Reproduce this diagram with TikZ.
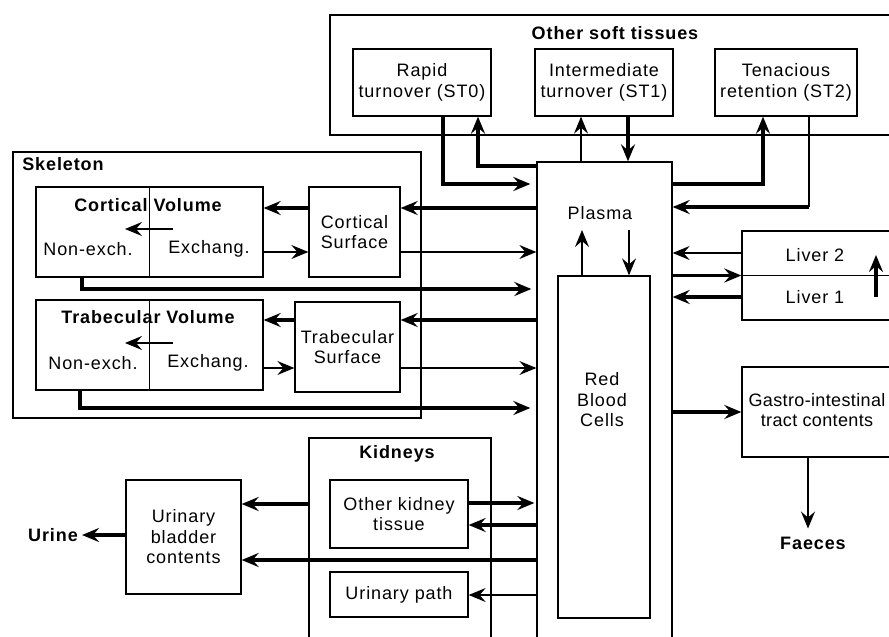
\documentclass[tikz,border=0pt]{standalone}
\usepackage{fontspec}
\setmainfont{Liberation Sans}[LetterSpace=5]
\usetikzlibrary{arrows.meta}
\newcommand\fsz{\fontsize{18}{20.5}\selectfont}
\begin{document}
\begin{tikzpicture}[x=1pt,y=-1pt,
  box/.style={draw, line width=1.3pt, inner sep=0pt, align=center, font=\fsz},
  txt/.style={inner sep=0pt, align=center, font=\fsz},
  btxt/.style={inner sep=0pt, align=center, font=\fsz\bfseries},
  thk/.style={line width=3.2pt},
  thn/.style={line width=1.3pt},
  arr/.style={-{Stealth[length=17pt,width=14pt,inset=6pt]}}]
\useasboundingbox (0,0) rectangle (889,637);

% containers
\node[box, minimum width=565pt, minimum height=120pt] (ost) at (612.5,75) {};
\node[btxt] (osttitle) at (615,33) {Other soft tissues};
\node[box, minimum width=408pt, minimum height=266pt] (skel) at (217,285) {};
\node[btxt] (skeltitle) at (63,164) {Skeleton};
\node[box, minimum width=182pt, minimum height=212pt] (kid) at (400,544) {};
\node[btxt] (kidtitle) at (397,454) {Kidneys};

% soft tissues
\node[box, minimum width=138pt, minimum height=67pt] (st0) at (422,82.5) {Rapid\\turnover (ST0)};
\node[box, minimum width=138pt, minimum height=67pt] (st1) at (604,82.5) {Intermediate\\turnover (ST1)};
\node[box, minimum width=142pt, minimum height=67pt] (st2) at (786,82.5) {Tenacious\\retention (ST2)};

% blood
\node[box, minimum width=135pt, minimum height=483pt] (plasma) at (604.5,403.5) {};
\node[txt] (plasmatxt) at (600,213) {Plasma};
\node[box, minimum width=92pt, minimum height=342pt] (rbc) at (604,447) {};
\node[txt] (rbctxt) at (602,400) {Red\\Blood\\Cells};

% skeleton
\node[box, minimum width=227pt, minimum height=90pt] (cvol) at (149.5,232) {};
\node[btxt] (cvoltxt) at (148,205) {Cortical Volume};
\node[txt] (cne) at (88,249) {Non-exch.};
\node[txt] (cex) at (209,249) {Exchang.};
\node[box, minimum width=91pt, minimum height=90pt] (csurf) at (354.5,232) {Cortical\\Surface};
\node[box, minimum width=227pt, minimum height=90pt] (tvol) at (149.5,345) {};
\node[btxt] (tvoltxt) at (148,317) {Trabecular Volume};
\node[txt] (tne) at (93,363) {Non-exch.};
\node[txt] (tex) at (208,363) {Exchang.};
\node[box, minimum width=105pt, minimum height=90pt] (tsurf) at (347.5,347) {Trabecular\\Surface};
\draw[thn] (cvol.north) -- (cvol.south);
\draw[thn] (tvol.north) -- (tvol.south);

% liver and GI
\node[box, minimum width=153pt, minimum height=89pt] (liver) at (818.5,275.5) {};
\draw[thn] (liver.west) -- (liver.east);
\node[txt] (liver2) at (815,255) {Liver 2};
\node[txt] (liver1) at (815,297) {Liver 1};
\node[box, minimum width=153pt, minimum height=90pt] (gi) at (818.5,412) {};
\node[txt, font=\fsz\addfontfeature{LetterSpace=2}] (gitxt) at (817,410) {Gastro-intestinal\\tract contents};
\node[btxt] (faeces) at (813,543) {Faeces};

% kidneys, bladder
\node[box, minimum width=138pt, minimum height=68pt] (okt) at (399,514) {Other kidney\\tissue};
\node[box, minimum width=138pt, minimum height=45pt] (upath) at (399,594.5) {Urinary path};
\node[box, minimum width=115pt, minimum height=114pt] (bladder) at (183.5,537) {Urinary\\bladder\\contents};
\node[btxt] (urine) at (53,535) {Urine};

% soft tissue connectors
\draw[thk,arr,shorten >=6pt] (st0.south -| 443,0) |- (plasma.west |- 0,184);
\draw[thk,arr] (plasma.west |- 0,166) -| (st0.south -| 478,0);
\draw[thn,arr] (plasma.north -| 581,0) -- (st1.south -| 581,0);
\draw[thk,arr] (st1.south -| 628,0) -- (plasma.north -| 628,0);
\draw[thk,arr] (plasma.east |- 0,184) -| (st2.south -| 763,0);
\coordinate (c2) at (809,207);
\draw[thn] (st2.south -| c2) -- (c2);
\draw[thk,arr] (c2) -- (plasma.east |- c2);

% plasma / RBC
\coordinate (pu) at (582,230);
\coordinate (pd) at (629,230);
\draw[thn,arr] (rbc.north -| pu) -- (pu);
\draw[thn,arr] (pd) -- (rbc.north -| pd);

% skeleton connectors
\draw[thk,arr] (plasma.west |- 0,208) -- (csurf.east |- 0,208);
\draw[thn,arr] (csurf.east |- 0,252) -- (plasma.west |- 0,252);
\draw[thk,arr] (csurf.west |- 0,208) -- (cvol.east |- 0,208);
\draw[thn,arr] (cvol.east |- 0,252) -- (csurf.west |- 0,252);
\draw[thk,arr,shorten >=5pt] (cvol.south -| 82,0) |- (plasma.west |- 0,289);
\coordinate (ca) at (173,229);
\coordinate (cb) at (125,229);
\draw[thn,arr] (ca) -- (cb);

\draw[thk,arr] (plasma.west |- 0,320) -- (tsurf.east |- 0,320);
\draw[thn,arr] (tsurf.east |- 0,368) -- (plasma.west |- 0,368);
\draw[thk,arr] (tsurf.west |- 0,320) -- (tvol.east |- 0,320);
\draw[thn,arr] (tvol.east |- 0,368) -- (tsurf.west |- 0,368);
\draw[thk,arr,shorten >=6pt] (tvol.south -| 80,0) |- (plasma.west |- 0,408);
\coordinate (ta) at (173,343);
\coordinate (tb) at (125,343);
\draw[thn,arr] (ta) -- (tb);

% liver and GI connectors
\draw[thn,arr] (liver.west |- 0,253) -- (plasma.east |- 0,253);
\draw[thk,arr] (plasma.east |- liver.west) -- (liver.west);
\draw[thk,arr] (liver.west |- 0,297) -- (plasma.east |- 0,297);
\draw[thk,arr] (liver1.east -| 876,0) -- (liver2.east -| 876,0);
\draw[thk,arr] (plasma.east |- 0,412) -- (gi.west |- 0,412);
\draw[thn,arr,shorten >=8pt] (gi.south -| 808,0) -- (faeces.north -| 808,0);

% kidney connectors
\draw[thk,arr,shorten >=2pt] (okt.east |- 0,503) -- (plasma.west |- 0,503);
\draw[thk,arr] (plasma.west |- 0,525) -- (okt.east |- 0,525);
\draw[thk,arr] (plasma.west |- 0,560) -- (bladder.east |- 0,560);
\draw[thn,arr] (plasma.west |- 0,595) -- (upath.east |- 0,595);
\draw[thk,arr] (kid.west |- 0,504) -- (bladder.east |- 0,504);
\draw[thk,arr,shorten >=4pt] (bladder.west |- urine.east) -- (urine.east);
\end{tikzpicture}
\end{document}
